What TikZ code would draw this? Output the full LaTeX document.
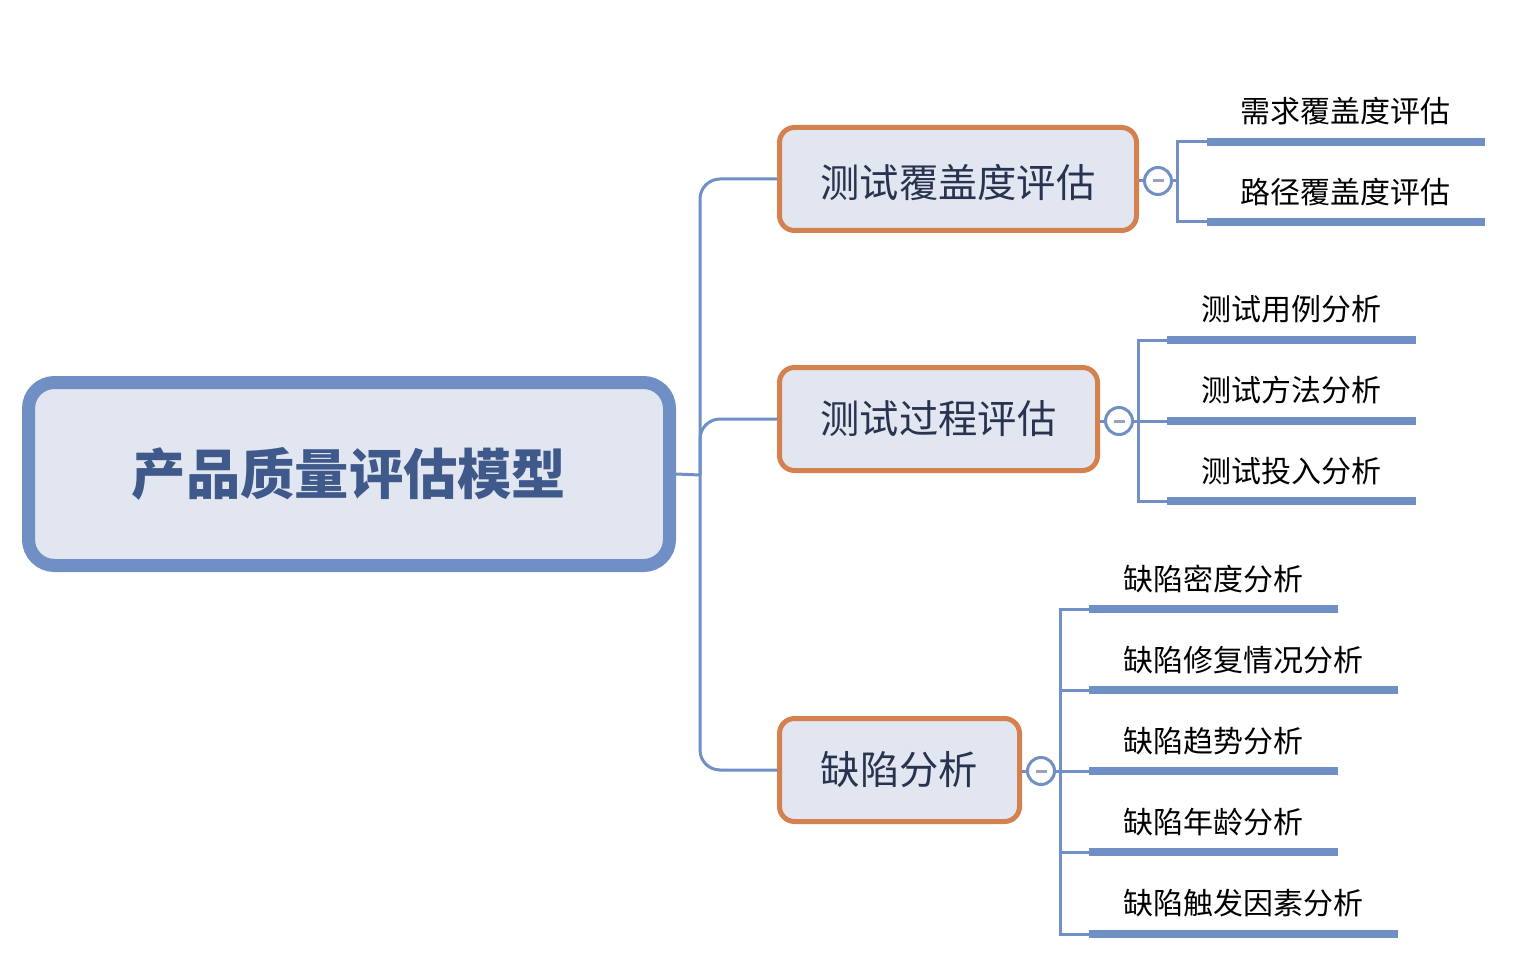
\documentclass[tikz,border=0pt]{standalone}
\usepackage{fontspec}
\newfontfamily\cjk{Noto Sans CJK SC}
\definecolor{lineblue}{HTML}{6F8FC5}
\definecolor{boxfill}{HTML}{E1E6F0}
\definecolor{boxorange}{HTML}{D4804F}
\definecolor{roottext}{HTML}{3F5A8A}
\definecolor{branchtext}{HTML}{28344F}
\definecolor{minusgray}{HTML}{9AA3BE}
\tikzset{
  rootbox/.style={draw=lineblue, line width=13pt, fill=boxfill, rounded corners=26pt,
    minimum width=641pt, minimum height=183pt, inner sep=0pt,
    font=\cjk\bfseries\fontsize{54.3}{60}\selectfont, text=roottext},
  branchbox/.style={draw=boxorange, line width=5pt, fill=boxfill, rounded corners=15pt,
    minimum height=103pt, inner sep=0pt,
    font=\cjk\fontsize{39.3}{46}\selectfont, text=branchtext},
  leaftext/.style={anchor=west, inner sep=0pt, font=\cjk\fontsize{30}{36}\selectfont, text=black},
  conn/.style={draw=lineblue, line width=3pt, rounded corners=20pt},
  bracket/.style={draw=lineblue, line width=3pt},
  leafline/.style={draw=lineblue, line width=8.5pt},
  toggle/.style={circle, draw=lineblue, line width=3pt, fill=white, minimum size=27pt, inner sep=0pt},
}
\begin{document}
\begin{tikzpicture}[x=1pt,y=-1pt]
\useasboundingbox (0,0) rectangle (1522,968);
% root
\node[rootbox] (root) at (349,474) {产品质量评估模型};
% branches
\node[branchbox, minimum width=357pt, text depth=0pt] (b1) at (958,179) {\raisebox{-3pt}{测试覆盖度评估}};
\node[branchbox, minimum width=318pt] (b2) at (938.5,419) {\raisebox{-3pt}{测试过程评估}};
\node[branchbox, minimum width=240pt] (b3) at (899.5,770) {\raisebox{-3pt}{缺陷分析}};
% root connectors
\coordinate (j) at (700,475);
\draw[bracket] (root.east) -- (j);
\draw[conn] (j) |- (b1.west);
\draw[conn] (j) |- (b2.west);
\draw[conn] (j) |- (b3.west);
% toggles
\node[toggle] (t1) at (1158,181) {};
\node[toggle] (t2) at (1119,421) {};
\node[toggle] (t3) at (1041,771) {};
\foreach \t in {t1,t2,t3}{\draw[minusgray, line width=3pt] ([xshift=-5.5pt]\t.center) -- ([xshift=5.5pt]\t.center);}
\draw[bracket] (b1.east|-t1) -- (t1.west);
\draw[bracket] (b2.east|-t2) -- (t2.west);
\draw[bracket] (b3.east|-t3) -- (t3.west);
% branch 1 leaves
\node[leaftext] (l11) at (1240,111) {需求覆盖度评估};
\node[leaftext] (l12) at (1240,192) {路径覆盖度评估};
\coordinate (k1) at (1177,181);
\draw[bracket] (t1.east) -- (k1);
\draw[bracket] (1207,142) -| (k1) |- (1207,222);
\draw[leafline] (1207,142) -- (1485,142);
\draw[leafline] (1207,222) -- (1485,222);
% branch 2 leaves
\node[leaftext] (l21) at (1201,309) {测试用例分析};
\node[leaftext] (l22) at (1201,390) {测试方法分析};
\node[leaftext] (l23) at (1201,471) {测试投入分析};
\coordinate (k2) at (1138,421);
\draw[bracket] (t2.east) -- (1167,421);
\draw[bracket] (1167,340) -| (k2) |- (1167,501);
\draw[leafline] (1167,340) -- (1416,340);
\draw[leafline] (1167,421) -- (1416,421);
\draw[leafline] (1167,501) -- (1416,501);
% branch 3 leaves
\node[leaftext] (l31) at (1123,579) {缺陷密度分析};
\node[leaftext] (l32) at (1123,660) {缺陷修复情况分析};
\node[leaftext] (l33) at (1123,741) {缺陷趋势分析};
\node[leaftext] (l34) at (1123,822) {缺陷年龄分析};
\node[leaftext] (l35) at (1123,903) {缺陷触发因素分析};
\coordinate (k3) at (1060,771);
\draw[bracket] (t3.east) -- (1089,771);
\draw[bracket] (1089,609) -| (k3) |- (1089,934);
\draw[bracket] (1060,690) -- (1089,690);
\draw[bracket] (1060,852) -- (1089,852);
\draw[leafline] (1089,609) -- (1338,609);
\draw[leafline] (1089,690) -- (1398,690);
\draw[leafline] (1089,771) -- (1338,771);
\draw[leafline] (1089,852) -- (1338,852);
\draw[leafline] (1089,934) -- (1398,934);
\end{tikzpicture}
\end{document}
